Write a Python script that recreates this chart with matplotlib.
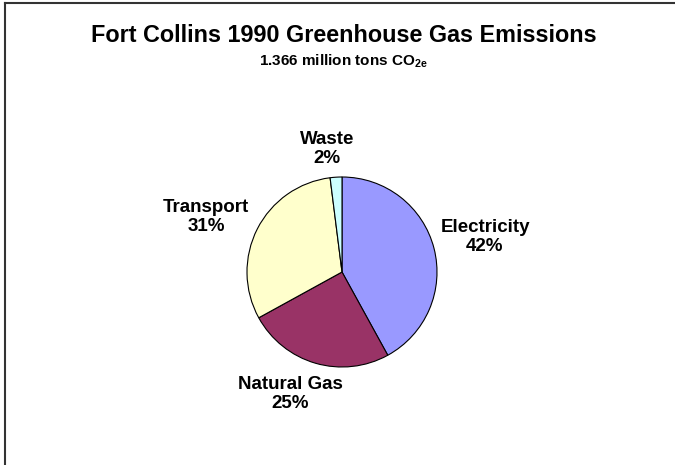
import matplotlib
matplotlib.use("Agg")
import matplotlib.pyplot as plt

plt.rcParams['font.family'] = ['Liberation Sans', 'DejaVu Sans']

# 1990 emissions share by sector
sectors = ['Electricity', 'Natural Gas', 'Transport', 'Waste']
shares = [42, 25, 31, 2]
colors = ['#9999FF', '#993366', '#FFFFCC', '#CCFFFF']

W, H = 675, 465
fig = plt.figure(figsize=(W / 100, H / 100), dpi=100)
ax = fig.add_axes([0, 0, 1, 1])

# pie centre and radius in pixel units (y measured from bottom)
cx, cy, r = 342, H - 272, 95
ax.pie(shares, colors=colors, startangle=90, counterclock=False,
       center=(cx, cy), radius=r, frame=True,
       wedgeprops=dict(edgecolor='black', linewidth=0.8))
ax.set_xlim(0, W)
ax.set_ylim(0, H)
ax.set_aspect('equal')
ax.axis('off')

# label anchor points (pixels from top-left)
label_pos = [(485, 237), (290, 394), (206, 217), (327, 149)]
for name, val, (lx, ly) in zip(sectors, shares, label_pos):
    ax.text(lx, H - ly, f'{name}\n{val}%', ha='center', va='center',
            fontsize=13.5, fontweight='bold', linespacing=1.2)

# title block
ax.text(343.5, H - 36, 'Fort Collins 1990 Greenhouse Gas Emissions',
        ha='center', va='center', fontsize=16.8, fontweight='bold')
ax.text(343, H - 61, r'1.366 million tons CO$_{\mathregular{2e}}$',
        ha='center', va='center', fontsize=11, fontweight='bold')

# frame edges along top and left
ax.plot([5, W], [H - 3, H - 3], color='#333333', linewidth=1.5)
ax.plot([5, 5], [0, H - 3], color='#333333', linewidth=1.5)

fig.savefig('out.png', dpi=100)
